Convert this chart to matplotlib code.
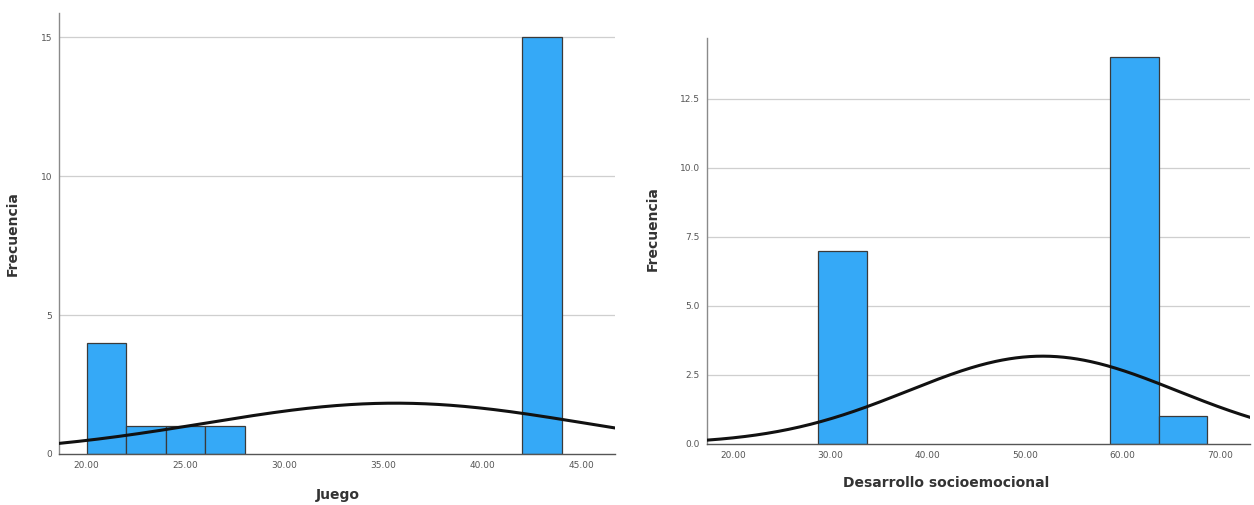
import numpy as np
import matplotlib.pyplot as plt

# Histogram 1: Juego
juego_bin_lefts = [20, 22, 24, 26, 42]
juego_counts = [4, 1, 1, 1, 15]
juego_bin_width = 2
juego_n = 22
juego_mean = 35.6
juego_sd = 9.6
juego_xticks = [20, 25, 30, 35, 40, 45]
juego_yticks = [0, 5, 10, 15]

# Histogram 2: Desarrollo socioemocional
socio_bin_lefts = [28.7, 58.7, 63.7]
socio_counts = [7, 14, 1]
socio_bin_width = 5
socio_n = 22
socio_mean = 51.8
socio_sd = 13.8
socio_xticks = [20, 30, 40, 50, 60, 70]
socio_yticks = [0, 2.5, 5, 7.5, 10, 12.5]

BAR_COLOR = "#35A9F7"
EDGE_COLOR = "#3a3a3a"
TEXT_COLOR = "#333333"
TICK_COLOR = "#555555"


def normal_curve(x, n, width, mean, sd):
    return n * width * np.exp(-0.5 * ((x - mean) / sd) ** 2) / (sd * np.sqrt(2 * np.pi))


def draw_hist(ax, lefts, counts, width, n, mean, sd, xlim, ylim, xticks, yticks, yfmt):
    ax.set_xlim(*xlim)
    ax.set_ylim(*ylim)
    for y in yticks[1:]:
        ax.axhline(y, color="#cfcfcf", lw=0.9, zorder=0)
    ax.bar(lefts, counts, width=width, align="edge", color=BAR_COLOR,
           edgecolor=EDGE_COLOR, linewidth=0.9, zorder=2)
    xs = np.linspace(xlim[0], xlim[1], 400)
    ax.plot(xs, normal_curve(xs, n, width, mean, sd), color="#111111", lw=2.2, zorder=3)

    ax.set_xticks(xticks)
    ax.set_xticklabels([f"{t:.2f}" for t in xticks])
    ax.set_yticks(yticks)
    ax.set_yticklabels([yfmt.format(t) for t in yticks])
    ax.tick_params(length=0, labelsize=6.5, colors=TICK_COLOR, pad=5)
    for s in ["top", "right"]:
        ax.spines[s].set_visible(False)
    ax.spines["left"].set_color("#8a8a8a")
    ax.spines["bottom"].set_color("#555555")
    ax.spines["left"].set_linewidth(1.0)
    ax.spines["bottom"].set_linewidth(1.0)


def main():
    fig = plt.figure(figsize=(12.54, 5.05), dpi=100)

    ax1 = fig.add_axes([0.047, 0.101, 0.4434, 0.873])
    draw_hist(ax1, juego_bin_lefts, juego_counts, juego_bin_width, juego_n,
              juego_mean, juego_sd, (18.6, 46.7), (0, 15.86),
              juego_xticks, juego_yticks, "{:.0f}")
    ax1.set_xlabel("Juego", fontsize=10, fontweight="bold", color=TEXT_COLOR)
    ax1.set_ylabel("Frecuencia", fontsize=10, fontweight="bold", color=TEXT_COLOR)
    ax1.xaxis.set_label_coords(0.501, -0.077)
    ax1.yaxis.set_label_coords(-0.07, 0.5)

    ax2 = fig.add_axes([0.5638, 0.1208, 0.433, 0.804])
    draw_hist(ax2, socio_bin_lefts, socio_counts, socio_bin_width, socio_n,
              socio_mean, socio_sd, (17.3, 73.1), (0, 14.7),
              socio_xticks, socio_yticks, "{:.1f}")
    ax2.set_xlabel("Desarrollo socioemocional", fontsize=10, fontweight="bold", color=TEXT_COLOR)
    ax2.set_ylabel("Frecuencia", fontsize=10, fontweight="bold", color=TEXT_COLOR)
    ax2.xaxis.set_label_coords(0.44, -0.079)
    ax2.yaxis.set_label_coords(-0.087, 0.53)

    fig.savefig("out.png", dpi=100)


if __name__ == "__main__":
    main()
